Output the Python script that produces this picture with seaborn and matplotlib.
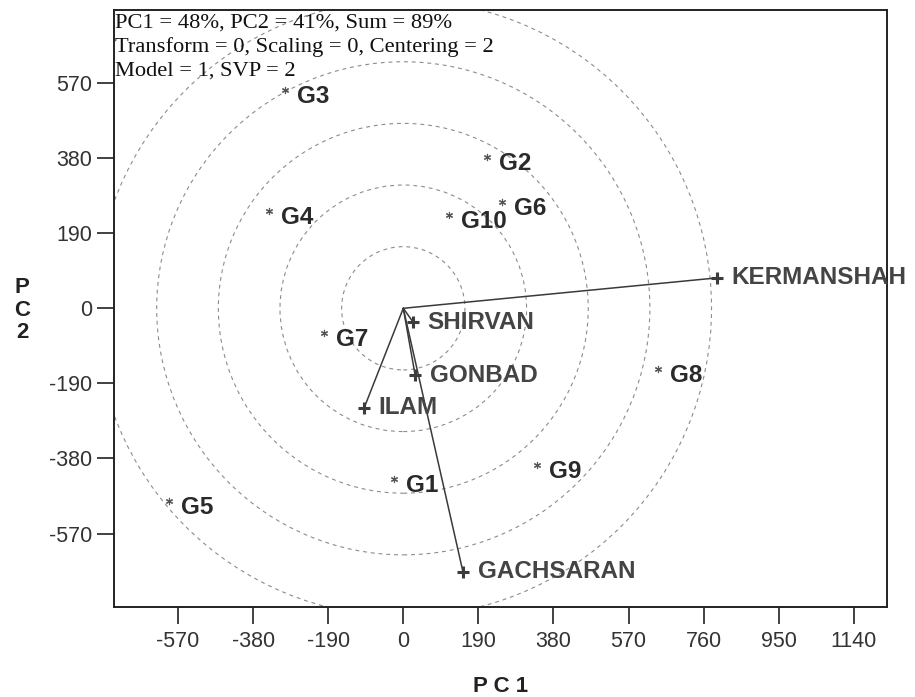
import matplotlib
matplotlib.use("Agg")
import matplotlib.pyplot as plt
from matplotlib.patches import Circle
import seaborn as sns
import pandas as pd

# Genotype scores on the first two principal components
genotypes = ["G1", "G2", "G3", "G4", "G5", "G6", "G7", "G8", "G9", "G10"]
geno_pc1 = [-24, 212, -299, -340, -593, 250, -201, 644, 338, 116]
geno_pc2 = [-432, 383, 552, 246, -488, 269, -62, -154, -396, 236]

# Environment scores (drawn as vectors from the origin)
environments = ["KERMANSHAH", "SHIRVAN", "GONBAD", "ILAM", "GACHSARAN"]
env_pc1 = [794, 25, 30, -99, 151]
env_pc2 = [77, -35, -169, -252, -667]

# Concentric reference circles around the biplot origin
circle_radii = [156, 312, 468, 624, 780]

ticks = [-570, -380, -190, 0, 190, 380, 570, 760, 950, 1140]
yticks = [-570, -380, -190, 0, 190, 380, 570]

info_lines = [
    "PC1 = 48%, PC2 = 41%, Sum = 89%",
    "Transform = 0, Scaling = 0, Centering = 2",
    "Model = 1, SVP = 2",
]

sns.set_theme(style="white")
plt.rcParams["font.family"] = ["Liberation Sans", "DejaVu Sans"]

W, H = 915, 697
fig = plt.figure(figsize=(W / 100, H / 100), dpi=100)
ax = fig.add_axes([114 / W, (H - 607) / H, (887 - 114) / W, (607 - 10) / H])
ax.set_xlim(-732, 1224)
ax.set_ylim(-756, 755)

for r in circle_radii:
    ax.add_patch(Circle((0, 0), r, fill=False, edgecolor="#8c8c8c",
                        linewidth=0.8, linestyle=(0, (3.5, 3.5)), zorder=1))

# Environment vectors
seg = pd.DataFrame({
    "env": [e for e in environments for _ in range(2)],
    "x": [v for x in env_pc1 for v in (0, x)],
    "y": [v for y in env_pc2 for v in (0, y)],
})
sns.lineplot(data=seg, x="x", y="y", units="env", estimator=None, sort=False,
             color="#3a3a3a", linewidth=1.1, ax=ax, zorder=2)

env_df = pd.DataFrame({"env": environments, "pc1": env_pc1, "pc2": env_pc2})
sns.scatterplot(data=env_df, x="pc1", y="pc2", marker="+", s=80,
                color="#3c3c3c", linewidth=2.2, ax=ax, zorder=3)
for name, x, y in zip(environments, env_pc1, env_pc2):
    ax.annotate(name, (x, y), xytext=(10.5, 0), textcoords="offset points",
                ha="left", va="center", fontsize=17.5, fontweight="bold",
                color="#444444", zorder=4)

geno_df = pd.DataFrame({"gen": genotypes, "pc1": geno_pc1, "pc2": geno_pc2})
sns.scatterplot(data=geno_df, x="pc1", y="pc2", marker=(6, 2, 0), s=20,
                color="#555555", linewidth=0.85, ax=ax, zorder=3)
for name, x, y in zip(genotypes, geno_pc1, geno_pc2):
    ax.annotate(name, (x, y), xytext=(8.5, -4.5), textcoords="offset points",
                ha="left", va="center", fontsize=17.5, fontweight="bold",
                color="#2a2a2a", zorder=4)

# Model summary in the upper-left corner, one line every 24 px
for i, line in enumerate(info_lines):
    ax.annotate(line, (0, 1), xycoords="axes fraction",
                xytext=(1.0, -(18 + 24 * i) * 0.72), textcoords="offset points",
                ha="left", va="baseline", fontsize=16.2,
                family="Liberation Serif", color="#111111", zorder=5)

ax.set_xticks(ticks)
ax.set_yticks(yticks)
ax.set_xticklabels([str(t) for t in ticks])
ax.set_yticklabels([str(t) for t in yticks])
ax.tick_params(axis="both", which="both", direction="out", length=12,
               width=1.3, color="#333333", labelsize=15.5, labelcolor="#333333",
               pad=4, bottom=True, left=True, top=False, right=False)
ax.tick_params(axis="x", pad=5.5)
for sp in ax.spines.values():
    sp.set_visible(True)
    sp.set_color("#222222")
    sp.set_linewidth(1.4)

ax.set_xlabel("P C 1", fontsize=16, fontweight="bold", color="#222222",
              labelpad=17)
ax.set_ylabel("")
fig.text(22 / W, 1 - 310 / H, "P\nC\n2", ha="center", va="center",
         fontsize=16, fontweight="bold", color="#222222", linespacing=1.1)
ax.grid(False)

fig.savefig("out.png", dpi=100)
